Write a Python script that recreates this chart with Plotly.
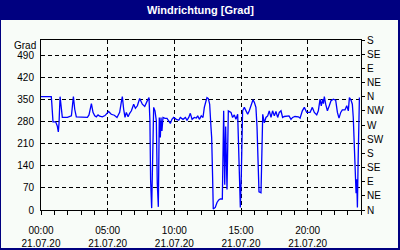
import plotly.graph_objects as go

# time in hours (21.07.20), wind direction in degrees
hours = [0.0, 0.77, 0.8, 0.85, 0.9, 1.1, 1.22, 1.3, 1.35, 1.43, 1.5, 1.6, 1.98, 2.1, 2.28, 2.43, 2.53, 2.65,
         3.48, 3.6, 3.78, 3.9, 4.03, 4.15, 4.28, 4.4, 4.6, 4.8, 4.9, 5.07, 5.27, 5.5, 5.7, 5.9, 6.02, 6.1,
         6.2, 6.3, 6.4, 6.53, 6.65, 6.78, 6.95, 7.08, 7.23, 7.4, 7.6, 7.78, 7.95, 8.1, 8.17, 8.22, 8.3,
         8.37, 8.45, 8.55, 8.65, 8.72, 8.8, 8.87, 8.95, 9.0, 9.07, 9.15, 9.3, 9.45, 9.55, 9.7, 9.82, 9.95,
         10.15, 10.33, 10.45, 10.65, 10.83, 10.95, 11.08, 11.2, 11.33, 11.5, 11.65, 11.75, 11.88, 12.02,
         12.15, 12.25, 12.38, 12.45, 12.55, 12.65, 12.75, 12.8, 12.87, 12.92, 13.07, 13.2, 13.33, 13.45,
         13.6, 13.7, 13.78, 13.85, 13.95, 14.05, 14.25, 14.37, 14.5, 14.62, 14.75, 14.8, 14.87, 14.95,
         15.02, 15.07, 15.12, 15.25, 15.37, 15.5, 15.62, 15.8, 15.9, 16.0, 16.12, 16.2, 16.3, 16.35, 16.5,
         16.55, 16.63, 16.75, 16.87, 17.0, 17.12, 17.25, 17.37, 17.5, 17.62, 17.75, 17.87, 18.0, 18.12,
         18.25, 18.45, 18.6, 18.75, 18.87, 19.05, 19.3, 19.43, 19.6, 19.75, 19.93, 20.18, 20.35, 20.5,
         20.68, 20.8, 20.93, 21.02, 21.12, 21.18, 21.25, 21.35, 21.48, 21.62, 21.75, 21.93, 22.1, 22.23,
         22.35, 22.48, 22.6, 22.8, 22.93, 23.05, 23.13, 23.25, 23.35, 23.42, 23.5, 23.57, 23.63, 23.68,
         23.73, 23.78, 23.83, 23.88]
direction = [360, 360, 345, 299, 280, 280, 267, 248, 275, 360, 336, 294, 294, 297, 299, 360, 320, 296,
             294, 302, 338, 310, 299, 296, 302, 298, 296, 300, 304, 313, 304, 301, 294, 310, 342, 360,
             320, 294, 310, 296, 307, 315, 336, 323, 331, 354, 336, 329, 345, 357, 283, 95, 6,
             209, 326, 315, 283, 86, 10, 294, 230, 294, 251, 294, 291, 291, 285, 275, 288, 294,
             288, 285, 294, 288, 294, 285, 294, 307, 288, 294, 292, 299, 288, 299,
             294, 326, 347, 357, 354, 336, 262, 230, 106, 3, 8, 24, 32, 35,
             35, 315, 80, 265, 65, 315, 310, 294, 302, 288, 304, 230, 106, 8,
             106, 265, 315, 326, 315, 304, 315, 336, 350, 342, 326, 265, 117, 58, 55,
             138, 304, 277, 294, 299, 315, 294, 315, 299, 313, 294, 310, 315, 294,
             297, 297, 299, 288, 294, 297, 296, 292, 315, 326, 310, 310, 326, 310,
             302, 315, 352, 331, 352, 338, 360, 336, 315, 331, 347, 352, 349, 310,
             292, 310, 318, 318, 331, 315, 357, 349, 336, 294, 209, 167, 53, 98,
             8, 146, 273, 357]

x_tick_vals = [0, 5, 10, 15, 20]
x_tick_text = ["00:00<br>21.07.20", "05:00<br>21.07.20", "10:00<br>21.07.20",
               "15:00<br>21.07.20", "20:00<br>21.07.20"]
left_tick_vals = [0, 70, 140, 210, 280, 350, 420, 490]
right_tick_vals = [0, 45, 90, 135, 180, 225, 270, 315, 360, 405, 450, 495, 540]
right_tick_text = ["N", "NE", "E", "SE", "S", "SW", "W", "NW", "N", "NE", "E", "SE", "S"]

NAVY = "#000080"
BG = "#F8FCF8"
FONT = "Liberation Sans"

W, H = 400, 250
L, R, T, B = 41, 39, 40, 40
PW, PH = W - L - R, H - T - B


def px_x(p):
    return (p - L) / PW


def px_y(q):
    return (H - B - q) / PH


fig = go.Figure()
# same series bound to the right (compass) axis so that axis is rendered; drawn invisible
fig.add_trace(go.Scatter(x=hours, y=direction, mode="lines", yaxis="y2",
                         line=dict(color="rgba(0,0,0,0)", width=1), hoverinfo="skip"))
fig.add_trace(go.Scatter(x=hours, y=direction, mode="lines",
                         line=dict(color="#0000FF", width=1.3), hoverinfo="skip"))

fig.update_layout(
    width=W, height=H,
    margin=dict(l=L, r=R, t=T, b=B, autoexpand=False),
    paper_bgcolor=NAVY, plot_bgcolor=BG,
    showlegend=False,
    font=dict(family=FONT, size=10, color="black"),
    xaxis=dict(range=[0, 24], tickmode="array", tickvals=x_tick_vals, ticktext=x_tick_text,
               ticks="outside", ticklen=4, tickcolor="black", tickwidth=1, ticklabelstandoff=7,
               minor=dict(tickmode="linear", tick0=0, dtick=1, ticks="outside", ticklen=4,
                          tickcolor="black", showgrid=False),
               showgrid=True, gridcolor="black", griddash="4px,3px", gridwidth=1,
               showline=True, linecolor="black", linewidth=1, mirror=True,
               zeroline=False, fixedrange=True, automargin=False),
    yaxis=dict(range=[0, 540], tickmode="array", tickvals=left_tick_vals,
               ticks="outside", ticklen=4, tickcolor="rgba(0,0,0,0)",
               showgrid=True, gridcolor="black", griddash="4px,3px", gridwidth=1,
               showline=True, linecolor="black", linewidth=1,
               zeroline=False, fixedrange=True, automargin=False),
    yaxis2=dict(range=[0, 540], overlaying="y", side="right", anchor="x",
                tickmode="array", tickvals=right_tick_vals, ticktext=right_tick_text,
                ticks="outside", ticklen=3, tickcolor="black",
                showgrid=False, showline=True, linecolor="black", linewidth=1,
                zeroline=False, fixedrange=True, automargin=False),
    shapes=[dict(type="rect", xref="paper", yref="paper", layer="below",
                 x0=px_x(1), x1=px_x(398), y0=px_y(248), y1=px_y(20),
                 fillcolor=BG, line=dict(width=0))],
    annotations=[
        dict(text="<b>Windrichtung [Grad]</b>", xref="paper", yref="paper",
             x=px_x(200), y=px_y(10), xanchor="center", yanchor="middle", showarrow=False,
             font=dict(family=FONT, size=11, color="white")),
        dict(text="Grad", xref="paper", yref="paper", x=0, y=px_y(45), xanchor="right",
             yanchor="middle", xshift=-3, showarrow=False,
             font=dict(family=FONT, size=10, color="black")),
    ],
)

fig.write_html("out.html")
